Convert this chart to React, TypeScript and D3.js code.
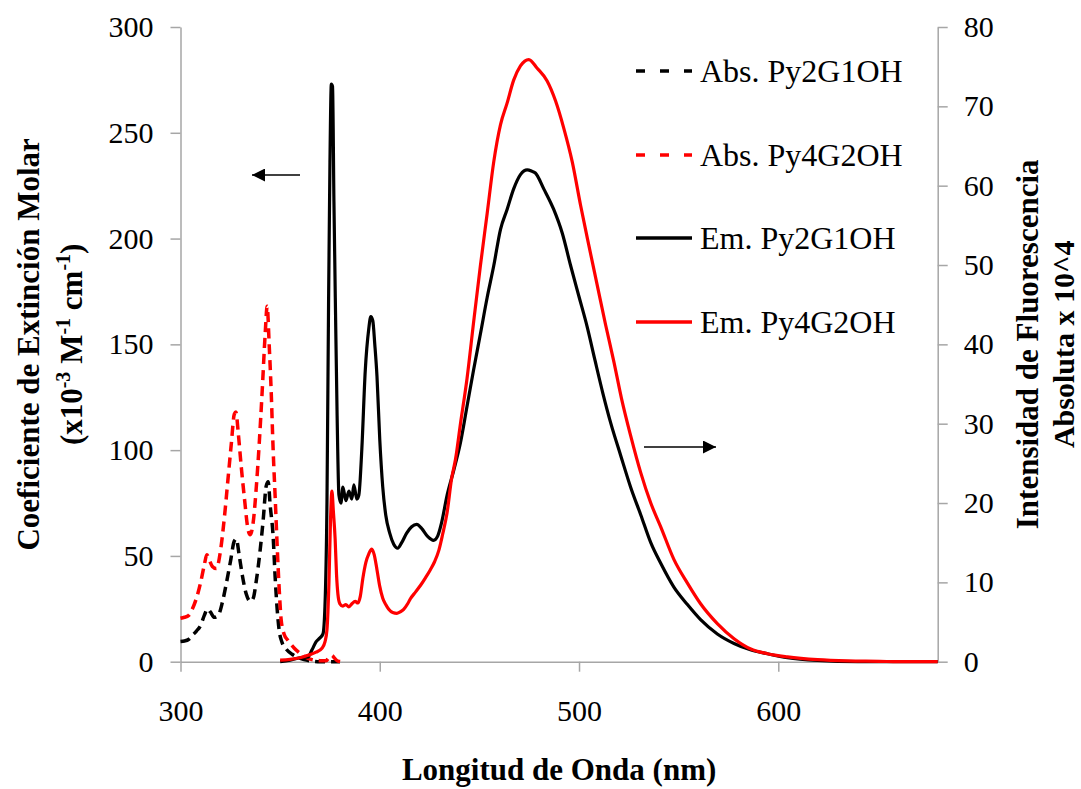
import React, { useEffect, useRef } from 'react';
import * as d3 from 'd3';

type Pt = [number, number];

// wavelength (nm), extinction coefficient (x10^-3 M^-1 cm^-1)
const absPy2G1OH: Pt[] = [
  [300, 9.5], [302, 9.8], [304, 10.5], [306, 12.5], [308, 14.5], [310, 17], [312, 22], [313.5, 25],
  [315, 23.5], [317, 21], [319, 22], [321, 28], [323, 37], [325, 47], [327, 57], [328, 58],
  [329.5, 50], [331, 41], [333, 32], [335, 28.5], [336.5, 30], [338, 38], [340, 53], [341.5, 67],
  [343, 83], [344, 85], [345, 74], [346.5, 59], [347.5, 40], [348.5, 25], [349.5, 15], [351, 9],
  [353, 6], [356, 3.5], [359, 2], [362, 1], [366, 0.3], [370, 0], [380, 0]
];

const absPy4G2OH: Pt[] = [
  [300, 20.5], [302, 21], [304, 21.8], [306, 25], [308, 30], [310, 37], [312, 46], [313.2, 50.5],
  [314.5, 48], [316, 45], [318, 44], [320, 52], [322, 68], [324, 88], [325.5, 103], [327, 117],
  [327.8, 118], [329, 108], [330.5, 92], [332, 78], [334, 62], [335, 60], [336.5, 66], [338, 82],
  [339.5, 103], [341, 128], [342.5, 155], [343.5, 168], [344.5, 150], [345.5, 128], [346.5, 100],
  [347.5, 78], [348.5, 55], [349.5, 35], [350.5, 20], [352, 13], [354, 10], [357, 6.5], [360, 4],
  [363, 2], [366, 1], [370, 0.5], [373, 0.5], [375, 2.5], [376, 3], [377, 2], [379, 0.3], [381, 0]
];

// wavelength (nm), fluorescence intensity (x10^4)
const emPy2G1OH: Pt[] = [
  [350, 0], [355, 0.2], [360, 0.5], [364, 0.6], [366, 1.5], [368, 2.5], [370, 3], [371.5, 3.5],
  [372.5, 7], [373.5, 20], [374.3, 45], [375, 63], [375.7, 72.8], [376.3, 72.5], [377, 58],
  [377.8, 44], [378.6, 31], [379.5, 21], [380.5, 20], [381.5, 22], [383, 20.3], [384.5, 21.5],
  [386, 20.5], [387, 22.3], [388.5, 20.5], [389.5, 21], [391, 26.8], [392.7, 36.6], [394.5, 42],
  [395.5, 43.5], [396.5, 43], [397.5, 40], [398.6, 36], [400, 28], [401.5, 22], [403, 18.5],
  [405, 16.2], [407, 14.8], [409, 14.3], [411, 15], [413.5, 16.2], [416, 17], [418.5, 17.3],
  [421, 16.8], [424, 15.8], [427, 15.3], [429, 15.8], [431, 17.5], [433.8, 21], [437.1, 24.1],
  [440.5, 27.6], [443.8, 32.2], [447.1, 36.8], [450.5, 41.3], [453.9, 45.9], [457.2, 49.9],
  [460.6, 54.5], [463.9, 57], [467.2, 59.6], [470.6, 61.4], [474, 62], [476.5, 61.8], [478.1, 61.6],
  [482.3, 59.6], [487.3, 57], [491.6, 54], [495.7, 50], [500, 46], [504, 42.3], [508, 38],
  [512, 33.8], [516, 30], [520.9, 26], [525.9, 22], [531, 18.5], [536, 15], [541, 12.4],
  [547.6, 9.4], [554.4, 7.2], [561, 5.3], [569.4, 3.5], [577.8, 2.3], [586, 1.5], [594.6, 1],
  [604.6, 0.5], [619.7, 0.15], [640, 0], [680, 0]
];

const emPy4G2OH: Pt[] = [
  [350, 0.2], [355, 0.3], [360, 0.5], [364, 0.8], [368, 1.2], [371, 1.7], [372.5, 2.5], [373.5, 4],
  [374.5, 10], [375.3, 18], [376, 21.5], [376.7, 19], [377.6, 15.5], [378.3, 11], [379, 8.5],
  [380, 7.3], [381.5, 7], [383, 7.2], [384.5, 6.9], [386, 7.3], [387.7, 7.6], [389, 7.4],
  [390.2, 8.2], [391.5, 10.5], [393, 12.5], [394.5, 13.6], [396, 14.2], [397.2, 13.5], [398.6, 11.6],
  [400, 9.5], [401.5, 8], [403, 7.2], [404.5, 6.6], [406.5, 6.2], [408.6, 6.1], [410.5, 6.3],
  [412, 6.6], [414, 7.3], [415.3, 7.9], [418, 8.8], [420.4, 9.6], [423, 10.6], [425.4, 11.6],
  [427.5, 12.6], [429.6, 14], [431.5, 16], [433.8, 18.8], [436, 23], [438, 25.5], [440.5, 30],
  [443.8, 35.7], [447.1, 42.8], [450.5, 49.9], [453.9, 56.5], [457.2, 63], [460.6, 67.7],
  [463.9, 70.4], [467.2, 73.3], [470.6, 75.1], [474.8, 75.9], [479, 74.8], [484, 73.2], [488.2, 70.7],
  [492.4, 67.2], [496.6, 63], [500.8, 57.5], [504.9, 52.5], [509.1, 47.5], [513.3, 42.5],
  [517.5, 37.8], [521.3, 33.2], [525.9, 28.5], [531, 23.8], [536, 20], [541, 17], [547.6, 12.9],
  [554.4, 9.9], [561, 7.3], [569.4, 4.8], [577.8, 2.9], [586.2, 1.6], [594.6, 1], [604.6, 0.6],
  [619.7, 0.25], [635, 0.1], [651, 0.05], [660, 0], [680, 0]
];

const xTicks = [300, 400, 500, 600];
const leftTicks = [0, 50, 100, 150, 200, 250, 300];
const rightTicks = [0, 10, 20, 30, 40, 50, 60, 70, 80];
const legendLabels = ['Abs. Py2G1OH', 'Abs. Py4G2OH', 'Em. Py2G1OH', 'Em. Py4G2OH'];

const FONT = "'Times New Roman', 'Liberation Serif', serif";
const AXIS_GRAY = '#a6a6a6';

const App = () => {
  const svgRef = useRef<SVGSVGElement>(null);

  useEffect(() => {
    if (!svgRef.current) return;
    const svg = d3.select(svgRef.current);
    svg.selectAll('*').remove();

    const left = 180.5, right = 937.7, top = 27, bottom = 661.7;

    const x = d3.scaleLinear().domain([300, 680]).range([left, right]);
    const yL = d3.scaleLinear().domain([0, 300]).range([bottom, top]);
    const yR = d3.scaleLinear().domain([0, 80]).range([bottom, top]);

    const styleAxis = (g: any) => {
      g.selectAll('path, line').attr('stroke', AXIS_GRAY).attr('stroke-width', 1.5);
      g.selectAll('text').attr('font-family', FONT).attr('font-size', 30).attr('fill', '#000');
    };

    // axes
    svg.append('g')
      .attr('transform', `translate(0,${bottom})`)
      .call(d3.axisBottom(x).tickValues(xTicks).tickSize(10).tickSizeOuter(0).tickPadding(28).tickFormat(d3.format('d')))
      .call(styleAxis);

    svg.append('g')
      .attr('transform', `translate(${left},0)`)
      .call(d3.axisLeft(yL).tickValues(leftTicks).tickSize(10).tickSizeOuter(0).tickPadding(17).tickFormat(d3.format('d')))
      .call(styleAxis);

    svg.append('g')
      .attr('transform', `translate(${right},0)`)
      .call(d3.axisRight(yR).tickValues(rightTicks).tickSize(10).tickSizeOuter(0).tickPadding(16).tickFormat(d3.format('d')))
      .call(styleAxis);

    svg.selectAll('.domain').attr('fill', 'none');

    // series
    const series = [
      { data: absPy2G1OH, y: yL, color: '#000000', dash: '10,6', width: 3.5 },
      { data: absPy4G2OH, y: yL, color: '#ff0000', dash: '10,6', width: 3.5 },
      { data: emPy2G1OH, y: yR, color: '#000000', dash: null, width: 3.2 },
      { data: emPy4G2OH, y: yR, color: '#ff0000', dash: null, width: 3.2 }
    ];

    const plot = svg.append('g');
    series.forEach(s => {
      const line = d3.line<Pt>()
        .x(d => x(d[0]))
        .y(d => s.y(d[1]))
        .curve(d3.curveMonotoneX);
      plot.append('path')
        .datum(s.data)
        .attr('d', line)
        .attr('fill', 'none')
        .attr('stroke', s.color)
        .attr('stroke-width', s.width)
        .attr('stroke-linejoin', 'round')
        .attr('stroke-dasharray', s.dash);
    });

    // legend
    const legendY = [71, 155, 238, 322];
    const legend = svg.append('g');
    series.forEach((s, i) => {
      legend.append('line')
        .attr('x1', 636).attr('x2', 692)
        .attr('y1', legendY[i]).attr('y2', legendY[i])
        .attr('stroke', s.color)
        .attr('stroke-width', 3.5)
        .attr('stroke-dasharray', s.dash ? '9,15' : null);
      legend.append('text')
        .attr('x', 700).attr('y', legendY[i]).attr('dy', '0.35em')
        .attr('font-family', FONT).attr('font-size', 32)
        .text(legendLabels[i]);
    });

    // arrows
    svg.append('defs').append('marker')
      .attr('id', 'head')
      .attr('viewBox', '0 0 10 10')
      .attr('refX', 10).attr('refY', 5)
      .attr('markerWidth', 15).attr('markerHeight', 13)
      .attr('markerUnits', 'userSpaceOnUse')
      .attr('orient', 'auto')
      .append('path').attr('d', 'M0,0L10,5L0,10Z').attr('fill', '#000');

    svg.append('line')
      .attr('x1', 300).attr('x2', 252).attr('y1', 175).attr('y2', 175)
      .attr('stroke', '#000').attr('stroke-width', 1.5)
      .attr('marker-end', 'url(#head)');
    svg.append('line')
      .attr('x1', 644).attr('x2', 716).attr('y1', 447).attr('y2', 447)
      .attr('stroke', '#000').attr('stroke-width', 1.5)
      .attr('marker-end', 'url(#head)');

    // axis titles
    svg.append('text')
      .attr('x', (left + right) / 2).attr('y', 780)
      .attr('text-anchor', 'middle')
      .attr('font-family', FONT).attr('font-size', 31).attr('font-weight', 'bold')
      .text('Longitud de Onda (nm)');

    const midY = (top + bottom) / 2;
    svg.append('text')
      .attr('transform', `translate(28,${midY}) rotate(-90)`)
      .attr('text-anchor', 'middle').attr('dy', '0.35em')
      .attr('font-family', FONT).attr('font-size', 31).attr('font-weight', 'bold')
      .text('Coeficiente de Extinción Molar');

    const lt2 = svg.append('text')
      .attr('transform', `translate(71,${midY}) rotate(-90)`)
      .attr('text-anchor', 'middle')
      .attr('font-family', FONT).attr('font-size', 31).attr('font-weight', 'bold');
    const parts: [string, boolean][] = [['(x10', false], ['-3', true], [' M', false], ['-1', true], [' cm', false], ['-1', true], [')', false]];
    let prevSup = false;
    parts.forEach(([t, sup], i) => {
      const ts = lt2.append('tspan').text(t).attr('font-size', sup ? 20 : 31);
      const base = i === 0 ? 11 : 0;
      if (sup && !prevSup) ts.attr('dy', -12 + base);
      else if (!sup && prevSup) ts.attr('dy', 12 + base);
      else if (i === 0) ts.attr('dy', base);
      prevSup = sup;
    });

    svg.append('text')
      .attr('transform', `translate(1027,${midY}) rotate(-90)`)
      .attr('text-anchor', 'middle').attr('dy', '0.35em')
      .attr('font-family', FONT).attr('font-size', 31).attr('font-weight', 'bold')
      .text('Intensidad de Fluorescencia');
    svg.append('text')
      .attr('transform', `translate(1063,${midY}) rotate(-90)`)
      .attr('text-anchor', 'middle').attr('dy', '0.35em')
      .attr('font-family', FONT).attr('font-size', 30).attr('font-weight', 'bold')
      .text('Absoluta x 10^4');
  }, []);

  return (
    <div style={{ position: 'absolute', left: 0, top: 0, background: '#fff' }}>
      <svg ref={svgRef} width={1081} height={789} style={{ display: 'block' }} />
    </div>
  );
};

export default App;
